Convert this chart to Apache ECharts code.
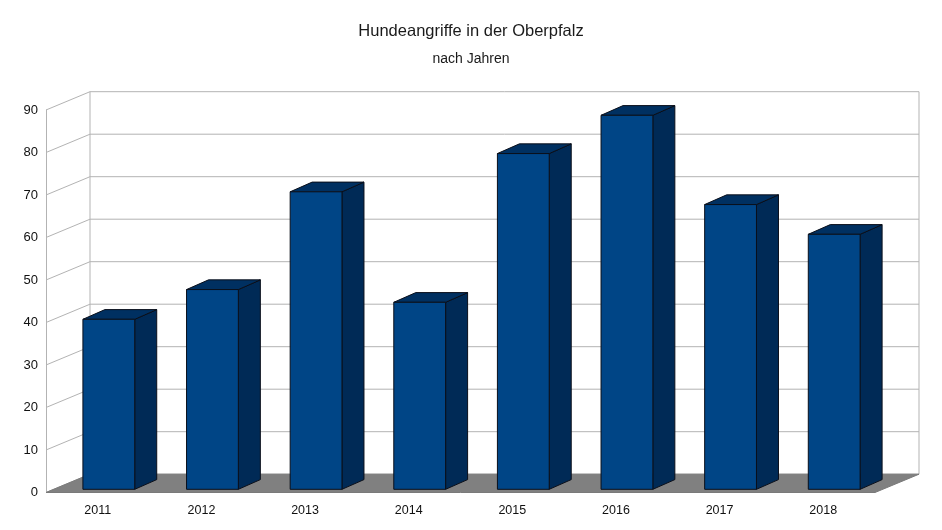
<!DOCTYPE html>
<html>
<head>
<meta charset="utf-8">
<script src="https://cdn.jsdelivr.net/npm/echarts@6/dist/echarts.min.js"></script>
<style>html,body{margin:0;padding:0;background:#fff;}#c{width:942px;height:530px;}</style>
</head>
<body>
<div id="c"></div>
<script>
const years = ['2011','2012','2013','2014','2015','2016','2017','2018'];
const attacks = [40, 47, 70, 44, 79, 88, 67, 60];
const yTicks = [0, 10, 20, 30, 40, 50, 60, 70, 80, 90];

const FONT = "'Liberation Sans', Arial, sans-serif";
// oblique depth offsets (style)
const WALL = [44, -18.3];
const BAR_FRONT = [11, -3.2];
const BAR_BACK = [33, -12.9];

const chart = echarts.init(document.getElementById('c'), null, {renderer: 'canvas'});

function gridRender(params, api) {
  const cs = params.coordSys;
  const v = api.value(0);
  const p = api.coord([0, v]);
  const y = p[1];
  const x0 = cs.x;
  const x1 = cs.x + cs.width;
  const children = [{
    type: 'polyline',
    shape: {points: [[x0, y], [x0 + WALL[0], y + WALL[1]], [x1 + WALL[0], y + WALL[1]]]},
    style: {stroke: '#b3b3b3', lineWidth: 1, fill: null}
  }];
  if (params.dataIndex === 0) {
    const top = cs.y;
    const bot = cs.y + cs.height;
    children.push({
      type: 'line',
      shape: {x1: x0 + WALL[0], y1: top + WALL[1], x2: x0 + WALL[0], y2: bot + WALL[1]},
      style: {stroke: '#b3b3b3', lineWidth: 1}
    });
    children.push({
      type: 'line',
      shape: {x1: x1 + WALL[0], y1: top + WALL[1], x2: x1 + WALL[0], y2: bot + WALL[1]},
      style: {stroke: '#b3b3b3', lineWidth: 1}
    });
  }
  return {type: 'group', children: children};
}

function floorRender(params, api) {
  const cs = params.coordSys;
  const y = api.coord([0, 0])[1];
  const x0 = cs.x, x1 = cs.x + cs.width;
  return {
    type: 'polygon',
    shape: {points: [[x0, y], [x1, y], [x1 + WALL[0], y + WALL[1]], [x0 + WALL[0], y + WALL[1]]]},
    style: {fill: '#808080', stroke: '#7a7a7a', lineWidth: 1}
  };
}

function barRender(params, api) {
  const idx = api.value(0);
  const val = api.value(1);
  const base = api.coord([idx, 0]);
  const topP = api.coord([idx, val]);
  const bw = api.size([1, 0])[0] * 0.5;
  const l = base[0] - bw / 2 + BAR_FRONT[0];
  const r = base[0] + bw / 2 + BAR_FRONT[0];
  const yb = base[1] + BAR_FRONT[1];
  const yt = topP[1] + BAR_FRONT[1];
  const dx = BAR_BACK[0] - BAR_FRONT[0];
  const dy = BAR_BACK[1] - BAR_FRONT[1];
  const edge = {stroke: '#0a0f1a', lineWidth: 1, lineJoin: 'round'};
  return {
    type: 'group',
    children: [
      {type: 'polygon', shape: {points: [[r, yb], [r + dx, yb + dy], [r + dx, yt + dy], [r, yt]]},
       style: Object.assign({fill: '#002a56'}, edge)},
      {type: 'polygon', shape: {points: [[l, yt], [r, yt], [r + dx, yt + dy], [l + dx, yt + dy]]},
       style: Object.assign({fill: '#003061'}, edge)},
      {type: 'rect', shape: {x: l, y: yt, width: r - l, height: yb - yt},
       style: Object.assign({fill: '#004586'}, edge)}
    ]
  };
}

chart.setOption({
  backgroundColor: '#ffffff',
  animation: false,
  title: [
    {text: 'Hundeangriffe in der Oberpfalz', left: 'center', top: 18,
     textStyle: {fontFamily: FONT, fontSize: 16.5, fontWeight: 'normal', color: '#1a1a1a'}},
    {text: 'nach Jahren', left: 'center', top: 47,
     textStyle: {fontFamily: FONT, fontSize: 14, fontWeight: 'normal', color: '#1a1a1a'}}
  ],
  grid: {left: 46, right: 67, top: 110, bottom: 37.5, containLabel: false},
  xAxis: {
    type: 'category',
    data: years,
    axisLine: {show: false},
    axisTick: {show: false},
    splitLine: {show: false},
    axisLabel: {margin: 12, fontFamily: FONT, fontSize: 12.5, color: '#111'}
  },
  yAxis: {
    type: 'value',
    min: 0, max: 90, interval: 10,
    axisLine: {show: true, lineStyle: {color: '#b3b3b3', width: 1}},
    axisTick: {show: false},
    splitLine: {show: false},
    axisLabel: {margin: 8, fontFamily: FONT, fontSize: 13, color: '#111'}
  },
  series: [
    {type: 'custom', renderItem: gridRender, data: yTicks.map(v => [v]), silent: true,
     encode: {y: 0}, z: 1},
    {type: 'custom', renderItem: floorRender, data: [[0]], silent: true, z: 2},
    {type: 'custom', renderItem: barRender, data: attacks.map((v, i) => [i, v]),
     encode: {x: 0, y: 1}, z: 3}
  ]
});
</script>
</body>
</html>
